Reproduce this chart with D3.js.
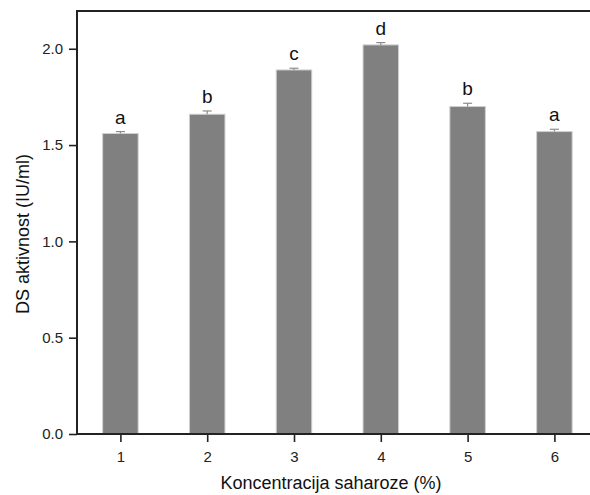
<!DOCTYPE html>
<html>
<head>
<meta charset="utf-8">
<script src="https://cdn.jsdelivr.net/npm/d3@7"></script>
<style>
    body { margin: 0; background: #fff; }
    svg text { font-family: Arial, "Liberation Sans", sans-serif; }
</style>
</head>
<body>
<script>
//wrap in an IIFE so nothing leaks to global scope
(function (){

    var categories = [1, 2, 3, 4, 5, 6];
    var activity = [1.56, 1.66, 1.89, 2.02, 1.70, 1.57];
    var errors = [0.010, 0.017, 0.009, 0.012, 0.017, 0.012];
    var letters = ["a", "b", "c", "d", "b", "a"];
    var yTicks = [0, 0.5, 1.0, 1.5, 2.0];

    var width = 590, height = 495;
    var left = 77, top = 11, bottom = 434;

    var svg = d3.select("body")
        .append("svg")
        .attr("width", width)
        .attr("height", height);

    //scales
    var x = d3.scaleLinear()
        .domain([0.5, 6.5])
        .range([left, left + 6 * 86.8]);

    var y = d3.scaleLinear()
        .domain([0, 2.196])
        .range([bottom, top]);

    var barW = 35.5;

    //bars
    svg.selectAll(".bar")
        .data(activity)
        .enter()
        .append("rect")
        .attr("class", "bar")
        .attr("x", function(d, i){ return x(categories[i]) - barW / 2; })
        .attr("y", function(d){ return y(d); })
        .attr("width", barW)
        .attr("height", function(d){ return bottom - y(d); })
        .style("fill", "#808080")
        .style("stroke", "#cfcfcf")
        .style("stroke-width", 1);

    //error bars (upper half only)
    var err = svg.selectAll(".err")
        .data(activity)
        .enter()
        .append("g")
        .attr("class", "err");

    err.append("line")
        .attr("x1", function(d, i){ return x(categories[i]); })
        .attr("x2", function(d, i){ return x(categories[i]); })
        .attr("y1", function(d){ return y(d); })
        .attr("y2", function(d, i){ return y(d + errors[i]); })
        .style("stroke", "#8c8c8c")
        .style("stroke-width", 1.2);

    err.append("line")
        .attr("x1", function(d, i){ return x(categories[i]) - 4.5; })
        .attr("x2", function(d, i){ return x(categories[i]) + 4.5; })
        .attr("y1", function(d, i){ return y(d + errors[i]); })
        .attr("y2", function(d, i){ return y(d + errors[i]); })
        .style("stroke", "#8c8c8c")
        .style("stroke-width", 1.2);

    //significance letters
    svg.selectAll(".letter")
        .data(activity)
        .enter()
        .append("text")
        .attr("class", "letter")
        .attr("text-anchor", "middle")
        .attr("x", function(d, i){ return x(categories[i]); })
        .attr("y", function(d, i){ return y(d + errors[i]) - 8; })
        .style("font-size", "19px")
        .style("fill", "#111")
        .text(function(d, i){ return letters[i]; });

    //axes
    var yAxis = d3.axisLeft(y)
        .tickValues(yTicks)
        .tickFormat(d3.format(".1f"))
        .tickSize(8)
        .tickPadding(6);

    var xAxis = d3.axisBottom(x)
        .tickValues(categories)
        .tickFormat(d3.format("d"))
        .tickSize(8)
        .tickPadding(9);

    var gy = svg.append("g")
        .attr("transform", "translate(" + left + ",0)")
        .call(yAxis);

    var gx = svg.append("g")
        .attr("transform", "translate(0," + bottom + ")")
        .call(xAxis);

    [gx, gy].forEach(function(g){
        g.select(".domain").remove();
        g.selectAll(".tick line").style("stroke", "#222").style("stroke-width", 1.6);
        g.selectAll(".tick text").style("font-size", "15px").style("fill", "#222")
            .style("font-family", "Arial, 'Liberation Sans', sans-serif");
    });

    //frame lines (left, bottom, top)
    svg.append("line")
        .attr("x1", left).attr("x2", left)
        .attr("y1", top).attr("y2", bottom + 1)
        .style("stroke", "#222").style("stroke-width", 2);
    svg.append("line")
        .attr("x1", left - 1).attr("x2", width)
        .attr("y1", bottom).attr("y2", bottom)
        .style("stroke", "#222").style("stroke-width", 2);
    svg.append("line")
        .attr("x1", left - 1).attr("x2", width)
        .attr("y1", top).attr("y2", top)
        .style("stroke", "#222").style("stroke-width", 2);

    //axis titles
    svg.append("text")
        .attr("x", 331)
        .attr("y", 489)
        .attr("text-anchor", "middle")
        .style("font-size", "18px")
        .style("fill", "#111")
        .text("Koncentracija saharoze (%)");

    svg.append("text")
        .attr("transform", "translate(29," + 234 + ") rotate(-90)")
        .attr("text-anchor", "middle")
        .style("font-size", "18px")
        .style("fill", "#111")
        .text("DS aktivnost (IU/ml)");

})();
</script>
</body>
</html>
